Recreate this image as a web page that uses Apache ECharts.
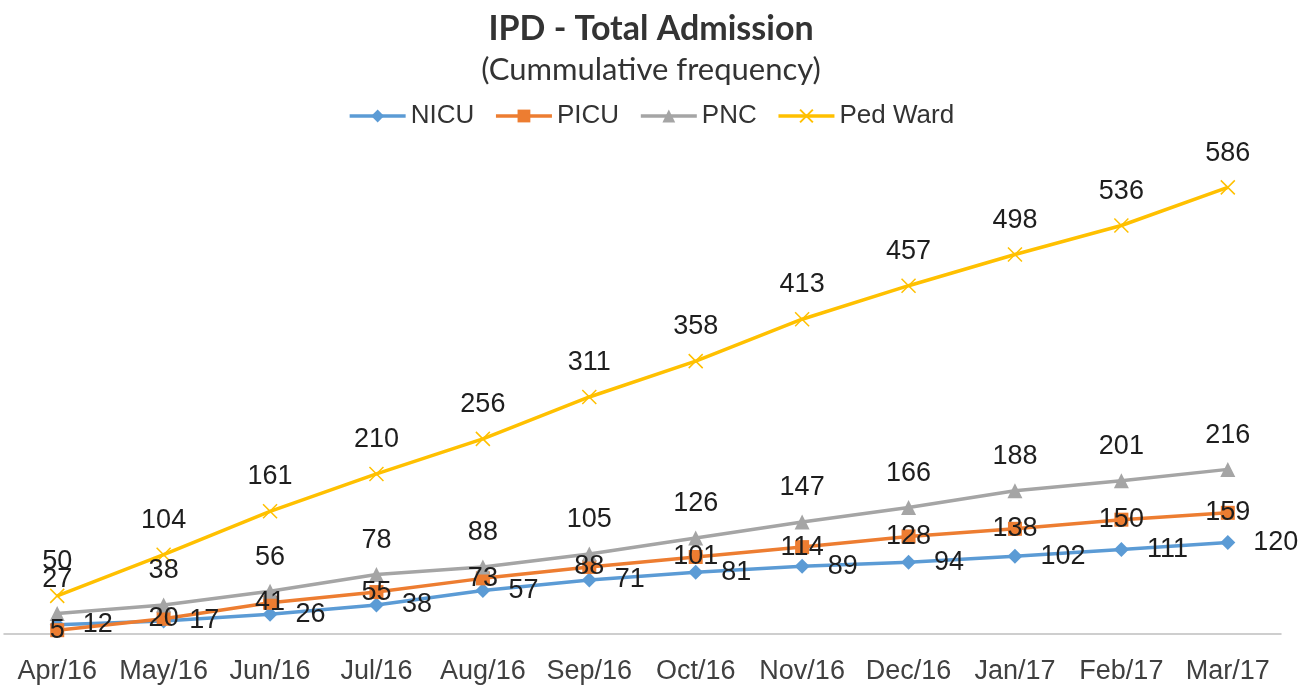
<!DOCTYPE html>
<html>
<head>
<meta charset="utf-8">
<title>IPD - Total Admission</title>
<script src="https://cdn.jsdelivr.net/npm/echarts@6/dist/echarts.min.js"></script>
<style>
    html, body { margin: 0; padding: 0; background: #fff; }
    #chart { width: 1302px; height: 685px; }
</style>
</head>
<body>
<div id="chart"></div>
<script>
// 月份
var months = ['Apr/16', 'May/16', 'Jun/16', 'Jul/16', 'Aug/16', 'Sep/16',
              'Oct/16', 'Nov/16', 'Dec/16', 'Jan/17', 'Feb/17', 'Mar/17'];

// 累计入院人数
var nicu    = [12, 17, 26, 38, 57, 71, 81, 89, 94, 102, 111, 120];
var picu    = [5, 20, 41, 55, 73, 88, 101, 114, 128, 138, 150, 159];
var pnc     = [27, 38, 56, 78, 88, 105, 126, 147, 166, 188, 201, 216];
var pedWard = [50, 104, 161, 210, 256, 311, 358, 413, 457, 498, 536, 586];

var labelFont = {
    fontFamily: 'Arial, "Liberation Sans", sans-serif',
    fontSize: 27,
    color: '#1e1e1e'
};

function makeSeries(name, data, color, symbol, symbolSize, labelPos, labelDist) {
    return {
        name: name,
        type: 'line',
        data: data,
        symbol: symbol,
        symbolSize: symbolSize,
        lineStyle: { color: color, width: 3.5 },
        itemStyle: { color: color },
        label: Object.assign({
            show: true,
            position: labelPos,
            distance: labelDist
        }, labelFont)
    };
}

var dom = document.getElementById('chart');
var myChart = echarts.init(dom);

var pedSeries = makeSeries('Ped Ward', pedWard, '#FFC000',
    'path://M0,0L10,10M10,0L0,10', 14, 'top', 13);
pedSeries.itemStyle = { color: 'rgba(0,0,0,0)', borderColor: '#FFC000', borderWidth: 1.5 };

var option = {
    backgroundColor: '#fff',
    animation: false,
    title: [{
        text: 'IPD - Total Admission',
        left: 'center',
        top: 7,
        textStyle: {
            fontFamily: 'Lato, "Open Sans", sans-serif',
            fontWeight: 'bold',
            fontSize: 34,
            color: '#333'
        }
    }, {
        text: '(Cummulative frequency)',
        left: 'center',
        top: 49,
        textStyle: {
            fontFamily: 'Lato, "Open Sans", sans-serif',
            fontWeight: 'normal',
            fontSize: 31,
            color: '#333'
        }
    }],
    legend: {
        top: 98,
        left: 'center',
        itemWidth: 56,
        itemHeight: 16,
        itemGap: 20,
        lineStyle: { width: 3.5 },
        textStyle: {
            fontFamily: 'Arial, "Liberation Sans", sans-serif',
            fontSize: 26,
            color: '#333'
        },
        data: ['NICU', 'PICU', 'PNC', 'Ped Ward']
    },
    grid: {
        left: 4,
        right: 21,
        top: 100.5,
        bottom: 49,
        containLabel: false
    },
    xAxis: {
        type: 'category',
        boundaryGap: true,
        data: months,
        axisLine: { show: true, lineStyle: { color: '#BFBFBF', width: 1.5 } },
        axisTick: { show: false },
        axisLabel: {
            margin: 24,
            interval: 0,
            fontFamily: 'Arial, "Liberation Sans", sans-serif',
            fontSize: 27,
            color: '#404040'
        }
    },
    yAxis: {
        type: 'value',
        min: 0,
        max: 700,
        show: false,
        splitLine: { show: false }
    },
    series: [
        makeSeries('NICU', nicu, '#5B9BD5', 'diamond', 15, 'right', 18),
        makeSeries('PICU', picu, '#ED7D31', 'rect', 14, 'inside', 0),
        makeSeries('PNC', pnc, '#A5A5A5', 'triangle', 15, 'top', 13),
        pedSeries
    ]
};

myChart.setOption(option);

window.addEventListener('resize', function () {
    myChart.resize();
});
</script>
</body>
</html>
